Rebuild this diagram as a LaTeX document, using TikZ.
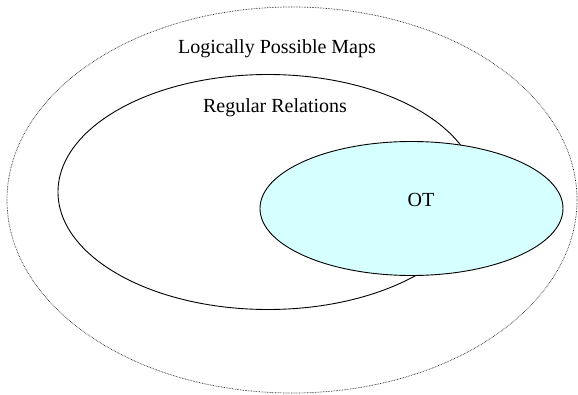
\documentclass[tikz,border=0pt]{standalone}
\usepackage{fontspec}
\setmainfont{Liberation Serif}
\usetikzlibrary{shapes.geometric}
\definecolor{otfill}{HTML}{D6FFFF}
\begin{document}
\begin{tikzpicture}[x=1pt,y=-1pt,
  set/.style={ellipse, inner sep=0pt, draw=black, line width=0.9pt},
  lab/.style={font=\fontsize{20}{24}\selectfont, inner sep=0pt}]
\useasboundingbox (0,0) rectangle (578,395);
\node[set, draw=black!85, line width=0.7pt, dash pattern=on 0.7pt off 0.9pt, minimum width=570pt, minimum height=386pt] (outer) at (292,200) {};
\node[set, minimum width=420pt, minimum height=235pt] (reg) at (268,192) {};
\node[set, fill=otfill, minimum width=303pt, minimum height=134pt] (ot) at (411.5,208.5) {};
\node[lab] (lpm) at (277,49) {Logically Possible Maps};
\node[lab] (rr) at (275,108) {Regular Relations};
\node[lab] (otl) at (421,200) {OT};
\end{tikzpicture}
\end{document}
